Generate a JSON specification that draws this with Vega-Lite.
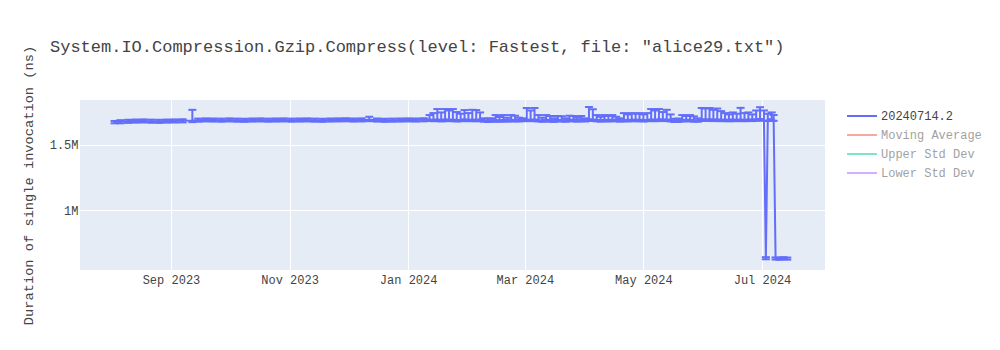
{
  "$schema": "https://vega.github.io/schema/vega-lite/v6.json",
  "width": 745,
  "height": 170,
  "autosize": "none",
  "padding": {"left": 80, "top": 100, "right": 175, "bottom": 80},
  "background": "white",
  "config": {
    "font": "Liberation Mono",
    "view": {"fill": "#E5ECF6", "stroke": null}
  },
  "title": {
    "text": "System.IO.Compression.Gzip.Compress(level: Fastest, file: \"alice29.txt\")",
    "anchor": "start",
    "frame": "group",
    "fontSize": 17,
    "fontWeight": "normal",
    "color": "#444444",
    "font": "Liberation Mono",
    "dx": -30,
    "offset": -11
  },
  "data": {
    "values": [
      {"t":"2023-08-03","v":1672000,"lo":1662000,"hi":1680000},
      {"t":"2023-08-06","v":1674000,"lo":1662000,"hi":1686000},
      {"t":"2023-08-10","v":1677000,"lo":1665000,"hi":1689000},
      {"t":"2023-08-14","v":1679000,"lo":1667000,"hi":1691000},
      {"t":"2023-08-18","v":1680000,"lo":1668000,"hi":1692000},
      {"t":"2023-08-22","v":1678000,"lo":1666000,"hi":1690000},
      {"t":"2023-08-26","v":1677000,"lo":1665000,"hi":1689000},
      {"t":"2023-08-30","v":1679000,"lo":1667000,"hi":1691000},
      {"t":"2023-09-03","v":1680000,"lo":1668000,"hi":1692000},
      {"t":"2023-09-07","v":1681000,"lo":1669000,"hi":1693000},
      {"t":"2023-09-12","v":1683000,"lo":1671000,"hi":1765000},
      {"t":"2023-09-15","v":1686000,"lo":1674000,"hi":1698000},
      {"t":"2023-09-19","v":1688000,"lo":1676000,"hi":1700000},
      {"t":"2023-09-23","v":1687000,"lo":1675000,"hi":1699000},
      {"t":"2023-09-27","v":1686000,"lo":1674000,"hi":1698000},
      {"t":"2023-10-01","v":1688000,"lo":1676000,"hi":1700000},
      {"t":"2023-10-05","v":1686000,"lo":1674000,"hi":1698000},
      {"t":"2023-10-09","v":1685000,"lo":1673000,"hi":1697000},
      {"t":"2023-10-13","v":1687000,"lo":1675000,"hi":1699000},
      {"t":"2023-10-17","v":1688000,"lo":1676000,"hi":1700000},
      {"t":"2023-10-21","v":1686000,"lo":1674000,"hi":1698000},
      {"t":"2023-10-25","v":1687000,"lo":1675000,"hi":1699000},
      {"t":"2023-10-29","v":1688000,"lo":1676000,"hi":1700000},
      {"t":"2023-11-02","v":1686000,"lo":1674000,"hi":1698000},
      {"t":"2023-11-06","v":1687000,"lo":1675000,"hi":1699000},
      {"t":"2023-11-10","v":1688000,"lo":1676000,"hi":1700000},
      {"t":"2023-11-14","v":1686000,"lo":1674000,"hi":1698000},
      {"t":"2023-11-18","v":1685000,"lo":1673000,"hi":1697000},
      {"t":"2023-11-22","v":1687000,"lo":1675000,"hi":1699000},
      {"t":"2023-11-26","v":1688000,"lo":1676000,"hi":1700000},
      {"t":"2023-11-30","v":1689000,"lo":1677000,"hi":1701000},
      {"t":"2023-12-04","v":1687000,"lo":1675000,"hi":1699000},
      {"t":"2023-12-08","v":1688000,"lo":1676000,"hi":1700000},
      {"t":"2023-12-12","v":1690000,"lo":1678000,"hi":1712000},
      {"t":"2023-12-16","v":1687000,"lo":1675000,"hi":1699000},
      {"t":"2023-12-20","v":1685000,"lo":1673000,"hi":1697000},
      {"t":"2023-12-24","v":1686000,"lo":1674000,"hi":1698000},
      {"t":"2023-12-28","v":1687000,"lo":1675000,"hi":1699000},
      {"t":"2024-01-01","v":1688000,"lo":1676000,"hi":1700000},
      {"t":"2024-01-05","v":1687000,"lo":1675000,"hi":1699000},
      {"t":"2024-01-09","v":1689000,"lo":1677000,"hi":1701000},
      {"t":"2024-01-12","v":1692000,"lo":1680000,"hi":1725000},
      {"t":"2024-01-14","v":1690000,"lo":1678000,"hi":1740000},
      {"t":"2024-01-16","v":1693000,"lo":1681000,"hi":1771000},
      {"t":"2024-01-18","v":1688000,"lo":1676000,"hi":1745000},
      {"t":"2024-01-20","v":1695000,"lo":1683000,"hi":1771000},
      {"t":"2024-01-22","v":1690000,"lo":1678000,"hi":1760000},
      {"t":"2024-01-24","v":1692000,"lo":1680000,"hi":1771000},
      {"t":"2024-01-26","v":1688000,"lo":1676000,"hi":1748000},
      {"t":"2024-01-28","v":1690000,"lo":1678000,"hi":1735000},
      {"t":"2024-01-30","v":1694000,"lo":1682000,"hi":1763000},
      {"t":"2024-02-01","v":1690000,"lo":1678000,"hi":1740000},
      {"t":"2024-02-03","v":1692000,"lo":1680000,"hi":1765000},
      {"t":"2024-02-05","v":1689000,"lo":1677000,"hi":1763000},
      {"t":"2024-02-07","v":1693000,"lo":1681000,"hi":1745000},
      {"t":"2024-02-09","v":1686000,"lo":1674000,"hi":1700000},
      {"t":"2024-02-11","v":1684000,"lo":1672000,"hi":1698000},
      {"t":"2024-02-13","v":1686000,"lo":1674000,"hi":1700000},
      {"t":"2024-02-15","v":1688000,"lo":1676000,"hi":1725000},
      {"t":"2024-02-17","v":1686000,"lo":1674000,"hi":1710000},
      {"t":"2024-02-19","v":1689000,"lo":1677000,"hi":1725000},
      {"t":"2024-02-21","v":1687000,"lo":1675000,"hi":1705000},
      {"t":"2024-02-23","v":1690000,"lo":1678000,"hi":1725000},
      {"t":"2024-02-25","v":1688000,"lo":1676000,"hi":1720000},
      {"t":"2024-02-27","v":1689000,"lo":1677000,"hi":1705000},
      {"t":"2024-02-29","v":1690000,"lo":1678000,"hi":1700000},
      {"t":"2024-03-02","v":1692000,"lo":1680000,"hi":1779000},
      {"t":"2024-03-04","v":1690000,"lo":1678000,"hi":1760000},
      {"t":"2024-03-06","v":1693000,"lo":1681000,"hi":1779000},
      {"t":"2024-03-08","v":1688000,"lo":1676000,"hi":1725000},
      {"t":"2024-03-10","v":1686000,"lo":1674000,"hi":1705000},
      {"t":"2024-03-12","v":1689000,"lo":1677000,"hi":1725000},
      {"t":"2024-03-14","v":1687000,"lo":1675000,"hi":1718000},
      {"t":"2024-03-16","v":1685000,"lo":1673000,"hi":1700000},
      {"t":"2024-03-18","v":1690000,"lo":1678000,"hi":1718000},
      {"t":"2024-03-20","v":1688000,"lo":1676000,"hi":1716000},
      {"t":"2024-03-22","v":1686000,"lo":1674000,"hi":1700000},
      {"t":"2024-03-24","v":1691000,"lo":1679000,"hi":1720000},
      {"t":"2024-03-26","v":1689000,"lo":1677000,"hi":1718000},
      {"t":"2024-03-28","v":1687000,"lo":1675000,"hi":1705000},
      {"t":"2024-03-30","v":1690000,"lo":1678000,"hi":1718000},
      {"t":"2024-04-01","v":1688000,"lo":1676000,"hi":1700000},
      {"t":"2024-04-03","v":1695000,"lo":1683000,"hi":1786000},
      {"t":"2024-04-05","v":1692000,"lo":1680000,"hi":1770000},
      {"t":"2024-04-07","v":1689000,"lo":1677000,"hi":1725000},
      {"t":"2024-04-09","v":1687000,"lo":1675000,"hi":1712000},
      {"t":"2024-04-11","v":1690000,"lo":1678000,"hi":1725000},
      {"t":"2024-04-13","v":1688000,"lo":1676000,"hi":1718000},
      {"t":"2024-04-15","v":1691000,"lo":1679000,"hi":1725000},
      {"t":"2024-04-17","v":1689000,"lo":1677000,"hi":1712000},
      {"t":"2024-04-19","v":1687000,"lo":1675000,"hi":1700000},
      {"t":"2024-04-21","v":1690000,"lo":1678000,"hi":1740000},
      {"t":"2024-04-23","v":1688000,"lo":1676000,"hi":1730000},
      {"t":"2024-04-25","v":1692000,"lo":1680000,"hi":1740000},
      {"t":"2024-04-27","v":1689000,"lo":1677000,"hi":1735000},
      {"t":"2024-04-29","v":1691000,"lo":1679000,"hi":1740000},
      {"t":"2024-05-01","v":1688000,"lo":1676000,"hi":1730000},
      {"t":"2024-05-03","v":1690000,"lo":1678000,"hi":1740000},
      {"t":"2024-05-05","v":1693000,"lo":1681000,"hi":1771000},
      {"t":"2024-05-07","v":1690000,"lo":1678000,"hi":1760000},
      {"t":"2024-05-09","v":1694000,"lo":1682000,"hi":1771000},
      {"t":"2024-05-11","v":1691000,"lo":1679000,"hi":1748000},
      {"t":"2024-05-13","v":1693000,"lo":1681000,"hi":1765000},
      {"t":"2024-05-15","v":1688000,"lo":1676000,"hi":1730000},
      {"t":"2024-05-17","v":1684000,"lo":1672000,"hi":1697000},
      {"t":"2024-05-19","v":1685000,"lo":1673000,"hi":1698000},
      {"t":"2024-05-21","v":1688000,"lo":1676000,"hi":1725000},
      {"t":"2024-05-23","v":1690000,"lo":1678000,"hi":1718000},
      {"t":"2024-05-25","v":1689000,"lo":1677000,"hi":1725000},
      {"t":"2024-05-27","v":1687000,"lo":1675000,"hi":1715000},
      {"t":"2024-05-29","v":1686000,"lo":1674000,"hi":1700000},
      {"t":"2024-05-31","v":1694000,"lo":1682000,"hi":1779000},
      {"t":"2024-06-02","v":1692000,"lo":1680000,"hi":1775000},
      {"t":"2024-06-04","v":1695000,"lo":1683000,"hi":1779000},
      {"t":"2024-06-06","v":1691000,"lo":1679000,"hi":1765000},
      {"t":"2024-06-08","v":1693000,"lo":1681000,"hi":1775000},
      {"t":"2024-06-10","v":1690000,"lo":1678000,"hi":1755000},
      {"t":"2024-06-12","v":1692000,"lo":1680000,"hi":1740000},
      {"t":"2024-06-14","v":1689000,"lo":1677000,"hi":1730000},
      {"t":"2024-06-16","v":1693000,"lo":1681000,"hi":1745000},
      {"t":"2024-06-18","v":1690000,"lo":1678000,"hi":1735000},
      {"t":"2024-06-20","v":1692000,"lo":1680000,"hi":1780000},
      {"t":"2024-06-22","v":1690000,"lo":1678000,"hi":1740000},
      {"t":"2024-06-24","v":1693000,"lo":1681000,"hi":1745000},
      {"t":"2024-06-26","v":1691000,"lo":1679000,"hi":1730000},
      {"t":"2024-06-28","v":1694000,"lo":1682000,"hi":1760000},
      {"t":"2024-06-30","v":1695000,"lo":1683000,"hi":1785000},
      {"t":"2024-07-02","v":1695000,"lo":1683000,"hi":1760000},
      {"t":"2024-07-03","v":632000,"lo":624000,"hi":640000},
      {"t":"2024-07-04","v":1692000,"lo":1680000,"hi":1735000},
      {"t":"2024-07-06","v":1694000,"lo":1682000,"hi":1745000},
      {"t":"2024-07-07","v":1693000,"lo":1681000,"hi":1725000},
      {"t":"2024-07-08","v":630000,"lo":622000,"hi":638000},
      {"t":"2024-07-10","v":628000,"lo":620000,"hi":636000},
      {"t":"2024-07-12","v":632000,"lo":624000,"hi":640000},
      {"t":"2024-07-14","v":629000,"lo":621000,"hi":637000}
    ]
  },
  "encoding": {
    "x": {
      "field": "t",
      "type": "temporal",
      "scale": {
        "type": "utc",
        "domain": [
          {"year": 2023, "month": 7, "date": 16, "hours": 5, "utc": true},
          {"year": 2024, "month": 8, "date": 2, "hours": 10, "utc": true}
        ]
      },
      "axis": {
        "title": null,
        "values": [
          {"year": 2023, "month": 9, "date": 1, "utc": true},
          {"year": 2023, "month": 11, "date": 1, "utc": true},
          {"year": 2024, "month": 1, "date": 1, "utc": true},
          {"year": 2024, "month": 3, "date": 1, "utc": true},
          {"year": 2024, "month": 5, "date": 1, "utc": true},
          {"year": 2024, "month": 7, "date": 1, "utc": true}
        ],
        "labelExpr": "utcFormat(datum.value, '%b %Y')",
        "domain": false,
        "ticks": false,
        "grid": true,
        "gridColor": "white",
        "gridWidth": 1,
        "labelFont": "Liberation Mono",
        "labelFontSize": 12,
        "labelColor": "#444444",
        "labelPadding": 4,
        "labelFlush": false
      }
    }
  },
  "layer": [
    {
      "mark": {"type": "rule", "color": "#636efa", "strokeWidth": 2},
      "encoding": {
        "y": {"field": "lo", "type": "quantitative"},
        "y2": {"field": "hi"}
      }
    },
    {
      "mark": {"type": "tick", "orient": "horizontal", "color": "#636efa", "size": 8, "thickness": 2, "opacity": 1},
      "encoding": {"y": {"field": "hi", "type": "quantitative"}}
    },
    {
      "mark": {"type": "tick", "orient": "horizontal", "color": "#636efa", "size": 8, "thickness": 2, "opacity": 1},
      "encoding": {"y": {"field": "lo", "type": "quantitative"}}
    },
    {
      "mark": {"type": "line", "strokeWidth": 2},
      "encoding": {
        "y": {
          "field": "v",
          "type": "quantitative",
          "scale": {"domain": [542000, 1840000], "nice": false, "zero": false},
          "axis": {
            "title": "Duration of single invocation (ns)",
            "titleFont": "Liberation Mono",
            "titleFontSize": 13.7,
            "titleFontWeight": "normal",
            "titleColor": "#444444",
            "titlePadding": 14,
            "values": [1000000, 1500000],
            "format": "~s",
            "domain": false,
            "ticks": false,
            "grid": true,
            "gridColor": "white",
            "gridWidth": 1,
            "labelFont": "Liberation Mono",
            "labelFontSize": 12,
            "labelColor": "#444444",
            "labelPadding": 2
          }
        },
        "color": {
          "datum": "20240714.2",
          "type": "nominal",
          "scale": {
            "domain": ["20240714.2", "Moving Average", "Upper Std Dev", "Lower Std Dev"],
            "range": ["#636efa", "#EF553B", "#00cc96", "#ab63fa"]
          },
          "legend": {
            "title": null,
            "orient": "none",
            "legendX": 776,
            "legendY": 10,
            "padding": 0,
            "symbolType": "M-3,0L3,0",
            "symbolSize": 100,
            "symbolStrokeWidth": 2,
            "symbolFillColor": "transparent",
            "labelFont": "Liberation Mono",
            "labelFontSize": 12,
            "labelColor": "#444444",
            "labelOffset": 13,
            "rowPadding": 7,
            "encode": {
              "symbols": {"update": {"opacity": {"signal": "datum.value === '20240714.2' ? 1 : 0.5"}}},
              "labels": {"update": {"opacity": {"signal": "datum.value === '20240714.2' ? 1 : 0.5"}}}
            }
          }
        }
      }
    }
  ]
}
